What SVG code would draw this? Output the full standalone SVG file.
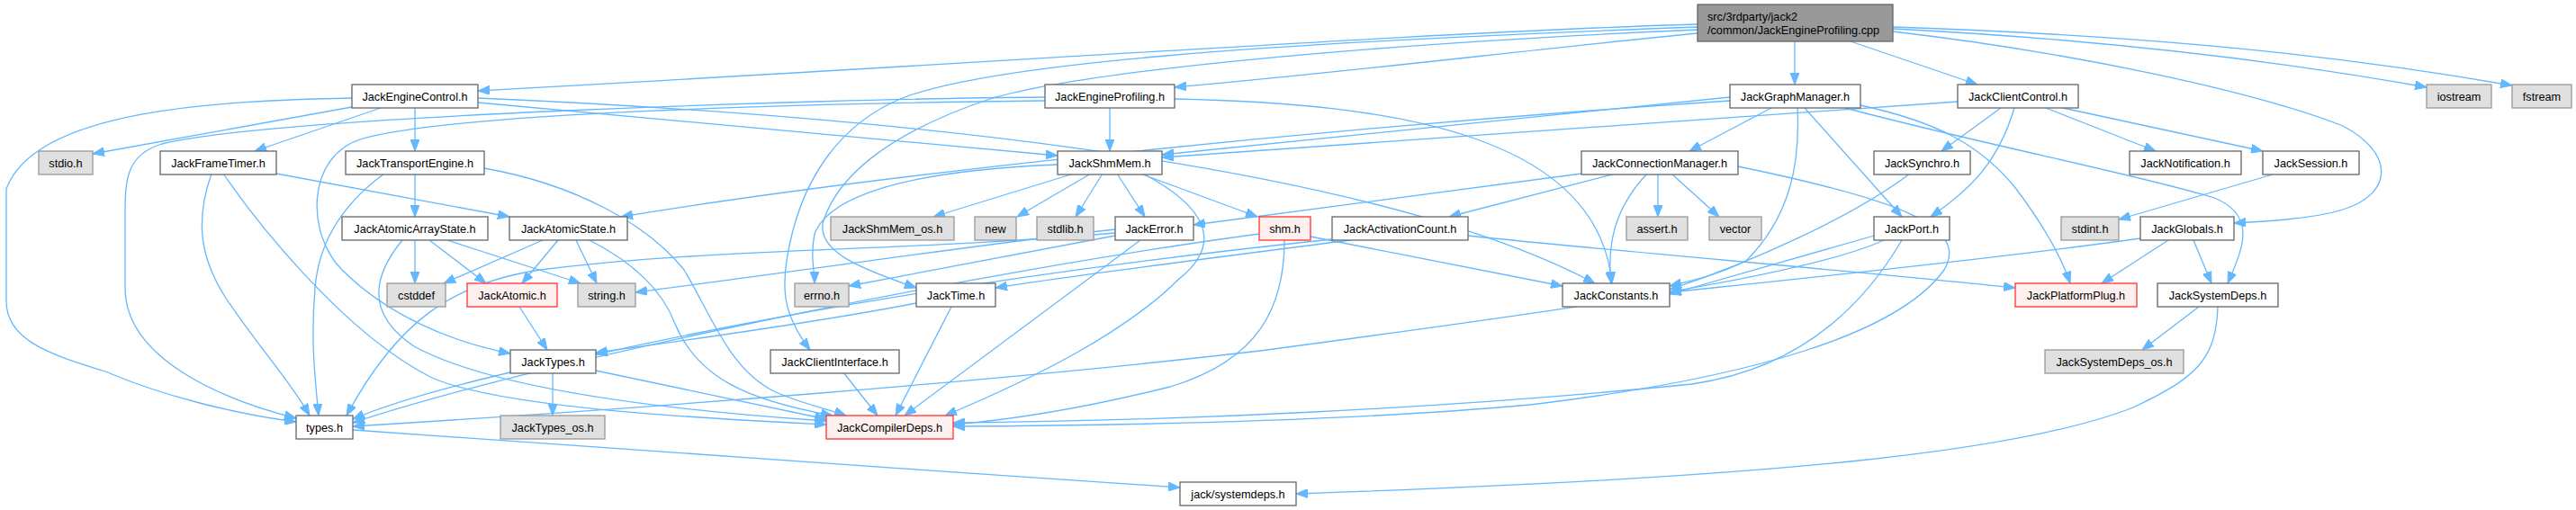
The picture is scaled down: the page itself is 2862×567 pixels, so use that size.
<svg xmlns="http://www.w3.org/2000/svg" width="2862" height="567" viewBox="0 0 2862 567">
<defs>
<style>
.n rect{fill:#ffffff;stroke:#666666;stroke-width:1.3}
.g rect{fill:#e0e0e0;stroke:#999999;stroke-width:1.3}
.r rect{fill:#fff0f0;stroke:#ff3030;stroke-width:1.3}
.root rect{fill:#999999;stroke:#666666;stroke-width:1.3}
text{font-family:"Liberation Sans",Arial,sans-serif;font-size:12.7px;fill:#000000}
.c{text-anchor:middle}
#edges path{fill:none;stroke:#63b8ff;stroke-width:1.3;marker-end:url(#ah)}
</style>
<marker id="ah" viewBox="0 0 13 10" refX="13" refY="5" markerWidth="13" markerHeight="10" markerUnits="userSpaceOnUse" orient="auto">
<path d="M0,0 L13,5 L0,10 z" fill="#63b8ff" stroke="#63b8ff" stroke-width="1"/>
</marker>
</defs>
<rect width="2862" height="567" fill="#ffffff"/>
<g id="edges">
<path d="M1886,27 C1600,35 1100,70 531,101"/>
<path d="M1886,37 C1700,55 1500,80 1305,97"/>
<path d="M1994,46 L1994,94"/>
<path d="M2056,46 L2197,94"/>
<path d="M2103,32 C2300,42 2500,62 2696,97"/>
<path d="M2103,30 C2400,40 2600,62 2791,95"/>
<path d="M2103,35 C2300,58 2500,100 2603,140 C2660,170 2660,215 2603,233 C2570,243 2520,246 2482,248"/>
<path d="M1886,30 C1400,48 1100,70 1000,110 C930,140 895,200 880,260 C865,320 870,350 900,389"/>
<path d="M1886,33 C1500,50 1200,80 1100,110 C980,150 930,200 915,245 C905,280 960,300 1018,320"/>
<path d="M391,119 L103,171"/>
<path d="M423,120 L283,168"/>
<path d="M461,120 L461,168"/>
<path d="M531,114 L1175,173"/>
<path d="M531,109 C900,125 1500,170 1772,315"/>
<path d="M391,109 C250,112 40,120 7,210 L7,335 C7,380 60,395 117,413 C180,440 260,460 329,469"/>
<path d="M1233,119 L1233,168"/>
<path d="M1305,110 C1550,115 1775,150 1791,315"/>
<path d="M1161,108 C900,110 300,130 180,160 C140,172 139,200 139,240 L139,320 C139,400 250,445 329,465"/>
<path d="M1161,112 C900,115 500,125 400,155 C340,175 340,260 380,300 C430,350 500,380 567,393"/>
<path d="M1922,108 L1291,172"/>
<path d="M1922,112 C1500,140 1000,190 690,241"/>
<path d="M1968,120 L1877,168"/>
<path d="M1997,120 C2000,180 1990,240 1940,290 C1910,305 1880,312 1855,318"/>
<path d="M2005,120 L2113,241"/>
<path d="M2067,117 C2150,135 2200,160 2240,210 C2270,250 2290,285 2300,315"/>
<path d="M2050,120 C2200,160 2380,195 2460,220 C2510,240 2490,280 2475,315"/>
<path d="M2175,113 L1291,175"/>
<path d="M2223,120 L2157,168"/>
<path d="M2238,120 C2220,180 2190,210 2145,241"/>
<path d="M2273,120 L2395,168"/>
<path d="M2292,120 L2514,168"/>
<path d="M307,193 L566,241"/>
<path d="M235,193 C215,250 225,290 250,330 C290,390 320,420 344,462"/>
<path d="M248,193 C280,240 380,370 480,420 C560,455 800,466 918,472"/>
<path d="M461,193 L461,241"/>
<path d="M538,187 C640,205 720,250 760,300 C790,350 810,410 860,435 C885,447 920,455 940,462"/>
<path d="M427,193 C390,220 355,260 350,320 C345,380 350,420 354,462"/>
<path d="M461,267 L461,315"/>
<path d="M477,267 L540,315"/>
<path d="M497,267 L645,315"/>
<path d="M447,267 C420,300 400,345 460,385 C560,440 800,460 918,468"/>
<path d="M603,267 L493,315"/>
<path d="M620,267 L580,315"/>
<path d="M640,267 L663,315"/>
<path d="M655,267 C700,290 735,320 750,360 C775,420 830,445 925,462"/>
<path d="M577,341 L608,389"/>
<path d="M614,414 L614,462"/>
<path d="M662,412 L918,466"/>
<path d="M567,414 C520,425 440,445 392,466"/>
<path d="M1018,337 C900,360 750,380 662,392"/>
<path d="M1057,341 L995,462"/>
<path d="M1631,262 C1800,280 2050,300 2239,320"/>
<path d="M1500,267 C1400,280 1200,305 1106,320"/>
<path d="M1480,266 C1250,290 950,330 662,394"/>
<path d="M1239,255 C1100,270 900,300 706,325"/>
<path d="M1239,262 L943,318"/>
<path d="M1267,267 L1005,462"/>
<path d="M1239,259 C1000,280 800,275 600,300 C500,315 440,360 385,462"/>
<path d="M1456,263 L1736,318"/>
<path d="M1427,267 C1427,340 1400,400 1300,430 C1200,455 1120,467 1059,472"/>
<path d="M1399,260 C1100,300 600,400 392,470"/>
<path d="M1757,193 L1326,250"/>
<path d="M1795,193 L1610,241"/>
<path d="M1842,193 L1842,241"/>
<path d="M1857,193 L1910,241"/>
<path d="M1830,193 C1795,230 1785,270 1790,315"/>
<path d="M1931,185 C2100,220 2190,250 2160,300 C2110,370 1950,420 1700,450 C1500,468 1250,473 1059,474"/>
<path d="M2122,193 C2060,240 1950,290 1855,322"/>
<path d="M2082,262 L1855,327"/>
<path d="M2093,267 C2000,310 1700,350 1400,390 C1100,425 700,455 392,474"/>
<path d="M2113,267 C2070,340 2000,410 1880,427 C1600,455 1300,468 1059,470"/>
<path d="M2378,265 C2200,290 1950,315 1855,325"/>
<path d="M2409,267 L2335,315"/>
<path d="M2437,267 L2457,315"/>
<path d="M2443,341 L2380,389"/>
<path d="M2464,341 C2462,400 2440,420 2370,453 C2250,500 2000,530 1440,549"/>
<path d="M392,478 C600,495 1000,520 1311,542"/>
<path d="M1193,193 L1037,241"/>
<path d="M1212,193 L1130,241"/>
<path d="M1225,193 L1195,241"/>
<path d="M1241,193 L1272,241"/>
<path d="M1267,193 L1397,241"/>
<path d="M1270,193 C1340,230 1360,270 1310,310 C1250,370 1150,420 1050,462"/>
<path d="M1175,183 C1000,190 920,220 905,260 C900,285 905,300 905,315"/>
<path d="M937,414 L975,462"/>
<path d="M2525,194 L2354,244"/>
</g>
<g id="root" class="root"><rect x="1886" y="5" width="217" height="41"/><text x="1897" y="23">src/3rdparty/jack2</text><text x="1897" y="38">/common/JackEngineProfiling.cpp</text></g>
<g id="JackEngineControl" class="n"><rect x="391" y="94" width="140" height="26"/><text class="c" x="461" y="111.5">JackEngineControl.h</text></g>
<g id="JackEngineProfiling" class="n"><rect x="1161" y="94" width="144" height="26"/><text class="c" x="1233" y="111.5">JackEngineProfiling.h</text></g>
<g id="JackGraphManager" class="n"><rect x="1922" y="94" width="145" height="26"/><text class="c" x="1994.5" y="111.5">JackGraphManager.h</text></g>
<g id="JackClientControl" class="n"><rect x="2175" y="94" width="134" height="26"/><text class="c" x="2242" y="111.5">JackClientControl.h</text></g>
<g id="iostream" class="g"><rect x="2696" y="94" width="72" height="26"/><text class="c" x="2732" y="111.5">iostream</text></g>
<g id="fstream" class="g"><rect x="2791" y="94" width="66" height="26"/><text class="c" x="2824" y="111.5">fstream</text></g>
<g id="stdio" class="g"><rect x="43" y="168" width="60" height="26"/><text class="c" x="73" y="185.5">stdio.h</text></g>
<g id="JackFrameTimer" class="n"><rect x="178" y="168" width="129" height="26"/><text class="c" x="242.5" y="185.5">JackFrameTimer.h</text></g>
<g id="JackTransportEngine" class="n"><rect x="384" y="168" width="154" height="26"/><text class="c" x="461" y="185.5">JackTransportEngine.h</text></g>
<g id="JackShmMem" class="n"><rect x="1175" y="168" width="116" height="26"/><text class="c" x="1233" y="185.5">JackShmMem.h</text></g>
<g id="JackConnectionManager" class="n"><rect x="1757" y="168" width="174" height="26"/><text class="c" x="1844" y="185.5">JackConnectionManager.h</text></g>
<g id="JackSynchro" class="n"><rect x="2082" y="168" width="107" height="26"/><text class="c" x="2135.5" y="185.5">JackSynchro.h</text></g>
<g id="JackNotification" class="n"><rect x="2366" y="168" width="124" height="26"/><text class="c" x="2428" y="185.5">JackNotification.h</text></g>
<g id="JackSession" class="n"><rect x="2514" y="168" width="107" height="26"/><text class="c" x="2567.5" y="185.5">JackSession.h</text></g>
<g id="JackAtomicArrayState" class="n"><rect x="380" y="241" width="162" height="26"/><text class="c" x="461" y="258.5">JackAtomicArrayState.h</text></g>
<g id="JackAtomicState" class="n"><rect x="566" y="241" width="131" height="26"/><text class="c" x="631.5" y="258.5">JackAtomicState.h</text></g>
<g id="JackShmMem_os" class="g"><rect x="923" y="241" width="137" height="26"/><text class="c" x="991.5" y="258.5">JackShmMem_os.h</text></g>
<g id="new" class="g"><rect x="1083" y="241" width="46" height="26"/><text class="c" x="1106" y="258.5">new</text></g>
<g id="stdlib" class="g"><rect x="1152" y="241" width="63" height="26"/><text class="c" x="1183.5" y="258.5">stdlib.h</text></g>
<g id="JackError" class="n"><rect x="1239" y="241" width="87" height="26"/><text class="c" x="1282.5" y="258.5">JackError.h</text></g>
<g id="shm" class="r"><rect x="1399" y="241" width="57" height="26"/><text class="c" x="1427.5" y="258.5">shm.h</text></g>
<g id="JackActivationCount" class="n"><rect x="1480" y="241" width="151" height="26"/><text class="c" x="1555.5" y="258.5">JackActivationCount.h</text></g>
<g id="assert" class="g"><rect x="1807" y="241" width="68" height="26"/><text class="c" x="1841" y="258.5">assert.h</text></g>
<g id="vector" class="g"><rect x="1899" y="241" width="58" height="26"/><text class="c" x="1928" y="258.5">vector</text></g>
<g id="JackPort" class="n"><rect x="2082" y="241" width="84" height="26"/><text class="c" x="2124" y="258.5">JackPort.h</text></g>
<g id="stdint" class="g"><rect x="2290" y="241" width="64" height="26"/><text class="c" x="2322" y="258.5">stdint.h</text></g>
<g id="JackGlobals" class="n"><rect x="2378" y="241" width="104" height="26"/><text class="c" x="2430" y="258.5">JackGlobals.h</text></g>
<g id="cstddef" class="g"><rect x="430" y="315" width="65" height="26"/><text class="c" x="462.5" y="332.5">cstddef</text></g>
<g id="JackAtomic" class="r"><rect x="519" y="315" width="100" height="26"/><text class="c" x="569" y="332.5">JackAtomic.h</text></g>
<g id="string" class="g"><rect x="642" y="315" width="64" height="26"/><text class="c" x="674" y="332.5">string.h</text></g>
<g id="errno" class="g"><rect x="883" y="315" width="60" height="26"/><text class="c" x="913" y="332.5">errno.h</text></g>
<g id="JackTime" class="n"><rect x="1018" y="315" width="88" height="26"/><text class="c" x="1062" y="332.5">JackTime.h</text></g>
<g id="JackConstants" class="n"><rect x="1736" y="315" width="119" height="26"/><text class="c" x="1795.5" y="332.5">JackConstants.h</text></g>
<g id="JackPlatformPlug" class="r"><rect x="2239" y="315" width="135" height="26"/><text class="c" x="2306.5" y="332.5">JackPlatformPlug.h</text></g>
<g id="JackSystemDeps" class="n"><rect x="2397" y="315" width="134" height="26"/><text class="c" x="2464" y="332.5">JackSystemDeps.h</text></g>
<g id="JackTypes" class="n"><rect x="567" y="389" width="95" height="26"/><text class="c" x="614.5" y="406.5">JackTypes.h</text></g>
<g id="JackClientInterface" class="n"><rect x="856" y="389" width="143" height="26"/><text class="c" x="927.5" y="406.5">JackClientInterface.h</text></g>
<g id="JackSystemDeps_os" class="g"><rect x="2272" y="389" width="154" height="26"/><text class="c" x="2349" y="406.5">JackSystemDeps_os.h</text></g>
<g id="types" class="n"><rect x="329" y="462" width="63" height="26"/><text class="c" x="360.5" y="479.5">types.h</text></g>
<g id="JackTypes_os" class="g"><rect x="556" y="462" width="116" height="26"/><text class="c" x="614" y="479.5">JackTypes_os.h</text></g>
<g id="JackCompilerDeps" class="r"><rect x="918" y="462" width="141" height="26"/><text class="c" x="988.5" y="479.5">JackCompilerDeps.h</text></g>
<g id="jack_systemdeps" class="n"><rect x="1311" y="536" width="129" height="26"/><text class="c" x="1375.5" y="553.5">jack/systemdeps.h</text></g>
</svg>
